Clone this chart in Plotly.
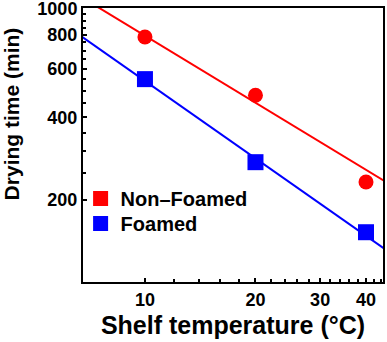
import numpy as np
import plotly.graph_objects as go

temp = [10, 20, 40]
non_foamed = [785, 481, 232]
foamed = [551, 274, 152]

# power-law fit lines: (drying time at 10 °C, exponent)
non_foamed_fit = (794, -0.814)
foamed_fit = (543, -0.94)

y_ticks = [200, 400, 600, 800, 1000]
x_ticks = [10, 20, 30, 40]

RED = "#ff0000"
BLUE = "#0000ff"
FONT = "Liberation Sans, Arial, sans-serif"

x_line = np.geomspace(6.5, 46, 20)

fig = go.Figure()

series = [
    (non_foamed, non_foamed_fit, RED, "circle", 15, "Non\u2013Foamed", "legend", 0.376),
    (foamed, foamed_fit, BLUE, "square", 16, "Foamed", "legend2", 0.285),
]
for ys, (a, k), col, sym, size, name, leg, _ in series:
    fig.add_trace(go.Scatter(x=x_line, y=a * (x_line / 10) ** k, mode="lines",
                             line=dict(color=col, width=2), showlegend=False, hoverinfo="skip"))
    fig.add_trace(go.Scatter(x=temp, y=ys, mode="markers", showlegend=False,
                             marker=dict(color=col, symbol=sym, size=size)))
    fig.add_trace(go.Scatter(x=[None], y=[None], mode="markers", name=name, legend=leg,
                             marker=dict(color=col, symbol="square", size=15)))

leg_style = dict(x=-0.008, xanchor="left", yanchor="top", bgcolor="rgba(0,0,0,0)",
                 font=dict(size=20, weight="bold"), itemwidth=30)

fig.update_layout(
    width=387, height=342,
    paper_bgcolor="white", plot_bgcolor="white",
    margin=dict(l=83, r=4, t=8, b=60),
    font=dict(family=FONT, color="black", size=18),
    legend=dict(y=series[0][7], **leg_style),
    legend2=dict(y=series[1][7], **leg_style),
    annotations=[dict(text="<b>Drying time (min)</b>", textangle=-90,
                      xref="paper", yref="paper", x=-0.237, y=0.615,
                      xanchor="center", yanchor="middle", showarrow=False,
                      font=dict(size=21))],
)
fig.update_xaxes(
    type="log", range=[np.log10(6.78), np.log10(44.5)],
    tickvals=x_ticks, ticktext=[str(v) for v in x_ticks],
    tickfont=dict(size=18, weight="bold"), ticklabeloverflow="allow",
    ticks="inside", ticklen=4, tickwidth=2, tickcolor="black",
    minor=dict(tickvals=list(range(12, 46, 2)), ticks="inside", ticklen=3,
               tickwidth=2, tickcolor="black"),
    showline=True, linecolor="black", linewidth=2, mirror=True,
    showgrid=False, zeroline=False, automargin=False,
    title=dict(text="Shelf temperature (\u00b0C)", font=dict(size=25, weight="bold"), standoff=8),
)
fig.update_yaxes(
    type="log", range=[2, 3.001],
    tickvals=y_ticks, ticktext=[str(v) for v in y_ticks],
    tickfont=dict(size=18, weight="bold"), ticklabeloverflow="allow",
    ticks="inside", ticklen=4, tickwidth=2, tickcolor="black",
    minor=dict(tickvals=list(range(200, 1001, 50)), ticks="inside", ticklen=3,
               tickwidth=2, tickcolor="black"),
    showline=True, linecolor="black", linewidth=2, mirror=True,
    showgrid=False, zeroline=False, automargin=False,
)

fig.write_html("out.html", config={"displayModeBar": False},
               post_script="document.body.style.margin='0';")
